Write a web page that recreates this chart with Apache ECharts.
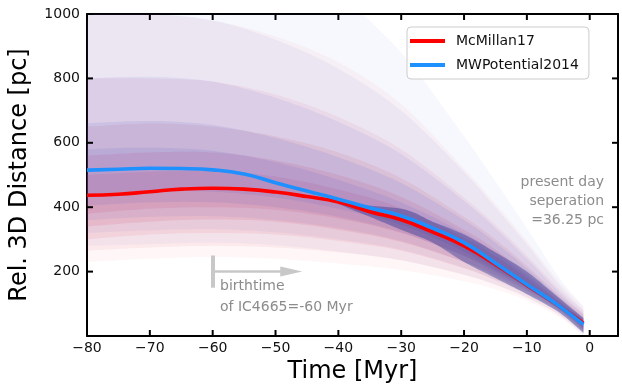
<!DOCTYPE html>
<html>
<head>
<meta charset="utf-8">
<script src="https://cdn.jsdelivr.net/npm/echarts@6/dist/echarts.min.js"></script>
<style>
html,body{margin:0;padding:0;background:#fff;}
#chart{width:622px;height:390px;}
</style>
</head>
<body>
<div id="chart"></div>
<script>
// ---- main orbit lines ----
var lineTimes = [-80,-75,-70,-65,-60,-55,-50,-45,-40,-35,-30,-25,-20,-15,-10,-5,-1];
var mcmillan = [437,440,448,456,459,456,447,433,416,386,361,323,280,222,158,94,40];
var mwpot    = [515,518,521,520,516,503,476,450,425,398,373,335,290,226,160,95,36];

// ---- spread of sampled orbits (read as nested envelopes of the cloud) ----
var cloudTimes = [-80,-70,-60,-50,-40,-30,-20,-15,-10,-5,-1];
var redLoA = [230,240,245,240,225,205,170,145,110,60,2];
var redHiA = [1000,1000,980,930,850,720,520,410,295,172,90];
var redLoB = [265,275,280,275,260,235,190,160,120,68,8];
var redHiB = [800,800,790,750,680,580,430,345,250,148,78];
var redLoC = [300,315,320,315,295,265,210,175,132,77,14];
var redHiC = [650,660,650,620,570,490,370,300,218,130,68];
var redLoD = [340,355,362,355,330,292,230,190,143,85,20];
var redHiD = [560,570,570,545,500,432,330,268,195,118,58];
var redLoE = [380,395,400,392,365,320,250,203,152,90,26];
var redHiE = [500,510,512,495,455,397,305,248,180,108,52];

var bluLoA = [280,285,290,282,262,235,190,158,118,66,2];
var bluHiA = [1300,1300,1250,1180,1060,880,620,480,335,185,92];
var bluLoB = [320,328,332,322,300,268,212,172,128,74,8];
var bluHiB = [1000,1000,980,920,830,700,510,400,285,162,80];
var bluLoC = [360,370,372,360,335,295,230,185,138,81,14];
var bluHiC = [800,805,790,740,665,565,420,335,240,140,68];
var bluLoD = [405,415,415,400,370,322,248,198,147,87,20];
var bluHiD = [660,668,655,615,555,475,360,290,210,124,58];
var bluLoE = [440,450,448,430,395,345,262,208,153,91,25];
var bluHiE = [580,585,575,540,485,415,320,258,188,112,50];

var coreTimes = [-40,-30,-25,-20,-15,-10,-5,-1];
var coreLo = [410,330,290,230,180,130,75,10];
var coreHi = [410,395,355,315,260,200,120,55];

// ---- axis ticks / annotations ----
var xMin = -80, xMax = 4.5, yMin = 0, yMax = 1000;
var xTicks = [-80,-70,-60,-50,-40,-30,-20,-10,0];
var yTicks = [200,400,600,800,1000];
var birthTime = -60;
var birthArrowEnd = -47.5;
var birthBar = [150,250];
var birthArrowY = 200;

function pairs(xs, ys){ return xs.map(function(x,i){ return [x, ys[i]]; }); }

// smooth a pixel polyline (Catmull-Rom) for drawing only
function smoothPx(pts){
  var out = [];
  var n = pts.length;
  for (var i = 0; i < n - 1; i++){
    var p0 = pts[Math.max(i-1,0)], p1 = pts[i], p2 = pts[i+1], p3 = pts[Math.min(i+2,n-1)];
    for (var s = 0; s < 12; s++){
      var t = s/12, t2 = t*t, t3 = t2*t;
      out.push([
        0.5*((2*p1[0]) + (-p0[0]+p2[0])*t + (2*p0[0]-5*p1[0]+4*p2[0]-p3[0])*t2 + (-p0[0]+3*p1[0]-3*p2[0]+p3[0])*t3),
        0.5*((2*p1[1]) + (-p0[1]+p2[1])*t + (2*p0[1]-5*p1[1]+4*p2[1]-p3[1])*t2 + (-p0[1]+3*p1[1]-3*p2[1]+p3[1])*t3)
      ]);
    }
  }
  out.push(pts[n-1]);
  return out;
}

var series = [];
function band(name, xs, lo, hi, color, opacity){
  series.push({
    name: name, type:'custom', coordinateSystem:'cartesian2d', silent:true, clip:true, z:1,
    data: [[xs[0], lo[0]]],
    renderItem: function(params, api){
      var up = xs.map(function(x,i){ return api.coord([x, hi[i]]); });
      var dn = xs.map(function(x,i){ return api.coord([x, lo[i]]); });
      var pts = smoothPx(up).concat(smoothPx(dn).reverse());
      return {type:'polygon', shape:{points:pts}, style:{fill:color, opacity:opacity}};
    }
  });
}
var RED = 'rgb(228,40,64)', BLUE = 'rgb(60,80,210)';
band('rA', cloudTimes, redLoA, redHiA, RED, 0.045);
band('rB', cloudTimes, redLoB, redHiB, RED, 0.06);
band('rC', cloudTimes, redLoC, redHiC, RED, 0.09);
band('rD', cloudTimes, redLoD, redHiD, RED, 0.11);
band('rE', cloudTimes, redLoE, redHiE, RED, 0.11);
band('bA', cloudTimes, bluLoA, bluHiA, BLUE, 0.04);
band('bB', cloudTimes, bluLoB, bluHiB, BLUE, 0.05);
band('bC', cloudTimes, bluLoC, bluHiC, BLUE, 0.08);
band('bD', cloudTimes, bluLoD, bluHiD, BLUE, 0.10);
band('bE', cloudTimes, bluLoE, bluHiE, BLUE, 0.11);
band('core', coreTimes, coreLo, coreHi, 'rgb(25,40,140)', 0.38);

series.push({
  name:'McMillan17', type:'line', data: pairs(lineTimes, mcmillan), smooth:true,
  showSymbol:false, lineStyle:{color:'#ff0000', width:3.6}, itemStyle:{color:'#ff0000'}, z:5
});
series.push({
  name:'MWPotential2014', type:'line', data: pairs(lineTimes, mwpot), smooth:true,
  showSymbol:false, lineStyle:{color:'#1e90ff', width:3.6}, itemStyle:{color:'#1e90ff'}, z:6,
  markLine:{
    silent:true, animation:false,
    label:{show:false},
    data:[
      [{coord:[birthTime, birthBar[0]], symbol:'none', lineStyle:{color:'#c8c8c8', width:4, type:'solid'}},
       {coord:[birthTime, birthBar[1]], symbol:'none'}],
      [{coord:[birthTime, birthArrowY], symbol:'none', lineStyle:{color:'#c8c8c8', width:2.5, type:'solid'}},
       {coord:[birthArrowEnd, birthArrowY], symbol:'triangle', symbolSize:[10,22]}]
    ]
  }
});

function fmt(v){ return v < 0 ? '\u2212' + Math.abs(v) : String(v); }

var font = 'DejaVu Sans';
var chart = echarts.init(document.getElementById('chart'), null, {renderer:'canvas'});
chart.setOption({
  animation:false,
  backgroundColor:'#ffffff',
  grid:{left:87, top:14, right:4, bottom:54, containLabel:false},
  legend:{
    data:['McMillan17','MWPotential2014'], orient:'vertical', left:407, top:27,
    icon:'rect', itemWidth:35, itemHeight:4, itemGap:10,
    padding:[7,10,7,3], borderColor:'#cccccc', borderWidth:1, borderRadius:4,
    backgroundColor:'rgba(255,255,255,0.85)',
    textStyle:{fontFamily:font, fontSize:14, color:'#111', padding:[0,0,0,6]}
  },
  xAxis:[{
    type:'value', min:xMin, max:xMax, interval:10, position:'bottom',
    axisLine:{show:true, onZero:false, lineStyle:{color:'#000', width:2}},
    axisTick:{show:false},
    axisLabel:{formatter:fmt, fontFamily:font, fontSize:14, color:'#111', margin:5,
               showMaxLabel:false},
    splitLine:{show:false},
    name:'Time [Myr]', nameLocation:'middle', nameGap:24,
    nameTextStyle:{fontFamily:font, fontSize:24, color:'#000'}
  },{
    type:'value', min:xMin, max:xMax, interval:10, position:'top',
    axisLine:{show:true, onZero:false, lineStyle:{color:'#000', width:2}},
    axisTick:{show:false},
    axisLabel:{show:false}, splitLine:{show:false}
  }],
  yAxis:[{
    type:'value', min:yMin, max:yMax, interval:200, position:'left',
    axisLine:{show:true, onZero:false, lineStyle:{color:'#000', width:2}},
    axisTick:{show:false},
    axisLabel:{formatter:function(v){return String(v);}, fontFamily:font, fontSize:14, color:'#111', margin:7, showMinLabel:false},
    splitLine:{show:false},
    name:'Rel. 3D Distance [pc]', nameLocation:'middle', nameGap:55,
    nameTextStyle:{fontFamily:font, fontSize:24, color:'#000'}
  },{
    type:'value', min:yMin, max:yMax, interval:200, position:'right',
    axisLine:{show:true, onZero:false, lineStyle:{color:'#000', width:2}},
    axisTick:{show:false},
    axisLabel:{show:false}, splitLine:{show:false}
  }],
  series: series
});

// inward ticks on all four sides, positioned through the chart's own scales
var TICK = 6;
var tickStyle = {stroke:'#000', lineWidth:2};
var gfx = [];
xTicks.forEach(function(v){
  var b = chart.convertToPixel({gridIndex:0}, [v, yMin]);
  var t = chart.convertToPixel({gridIndex:0}, [v, yMax]);
  gfx.push({type:'line', z:100, silent:true, shape:{x1:b[0], y1:b[1], x2:b[0], y2:b[1]-TICK}, style:tickStyle});
  gfx.push({type:'line', z:100, silent:true, shape:{x1:t[0], y1:t[1], x2:t[0], y2:t[1]+TICK}, style:tickStyle});
});
yTicks.forEach(function(v){
  var l = chart.convertToPixel({gridIndex:0}, [xMin, v]);
  var r = chart.convertToPixel({gridIndex:0}, [xMax, v]);
  gfx.push({type:'line', z:100, silent:true, shape:{x1:l[0], y1:l[1], x2:l[0]+TICK, y2:l[1]}, style:tickStyle});
  gfx.push({type:'line', z:100, silent:true, shape:{x1:r[0], y1:r[1], x2:r[0]-TICK, y2:r[1]}, style:tickStyle});
});
gfx.push({type:'text', x:604, y:173, z:100, silent:true,
  style:{text:'present day\nseperation\n=36.25 pc', align:'right', verticalAlign:'top',
         fill:'#8c8c8c', font:'14px "DejaVu Sans"', lineHeight:19}});
gfx.push({type:'text', x:220, y:276, z:100, silent:true,
  style:{text:'birthtime\nof IC4665=-60 Myr', align:'left', verticalAlign:'top',
         fill:'#8c8c8c', font:'14px "DejaVu Sans"', lineHeight:21}});
chart.setOption({graphic: gfx});
</script>
</body>
</html>
